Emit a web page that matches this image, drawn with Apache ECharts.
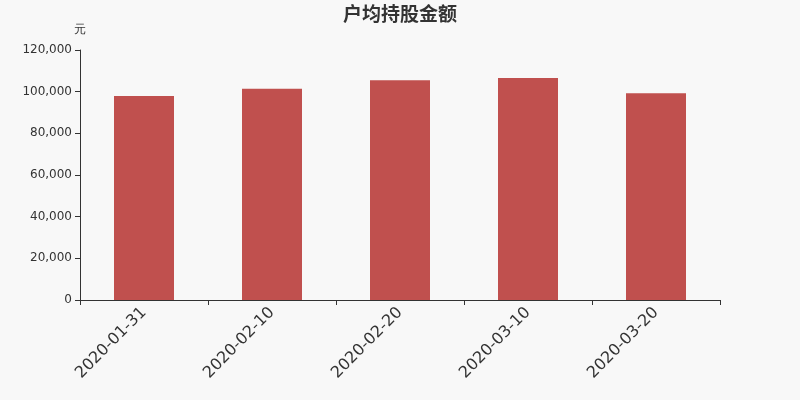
<!DOCTYPE html>
<html><head><meta charset="utf-8">
<script src="https://cdn.jsdelivr.net/npm/echarts@6/dist/echarts.min.js"></script>
<style>html,body{margin:0;padding:0;background:#f8f8f8}#c{width:800px;height:400px}</style>
</head><body><div id="c"></div>
<script>
const categories = ['2020-01-31','2020-02-10','2020-02-20','2020-03-10','2020-03-20'];
const values = [97900, 101400, 105450, 106550, 99200];
const yTicks = {min:0, max:120000, interval:20000};
const chart = echarts.init(document.getElementById('c'));
chart.setOption({
  backgroundColor:'#f8f8f8',
  animation:false,
  title:{text:'户均持股金额', left:'center', top:-1, textStyle:{fontSize:19, fontWeight:'bold', color:'#333', fontFamily:'Noto Sans CJK SC'}},
  grid:{left:80, right:80, top:50, bottom:100},
  xAxis:{type:'category', data:categories,
    axisLine:{lineStyle:{color:'#333'}},
    axisTick:{show:true, alignWithLabel:false, lineStyle:{color:'#333'}},
    axisLabel:{rotate:45, fontSize:16, color:'#333', margin:10, fontFamily:'DejaVu Sans'}},
  yAxis:{type:'value', name:'元', nameTextStyle:{color:'#333', fontSize:12, align:'center'}, nameGap:14,
    min:yTicks.min, max:yTicks.max, interval:yTicks.interval,
    axisLine:{show:true, lineStyle:{color:'#333'}},
    axisTick:{show:true, lineStyle:{color:'#333'}},
    splitLine:{show:false},
    axisLabel:{color:'#333', fontSize:12, fontFamily:'DejaVu Sans',
      formatter:v=>v.toLocaleString('en-US')}},
  series:[{type:'bar', data:values, barWidth:60, itemStyle:{color:'#c0504e'}}]
});
</script></body></html>
